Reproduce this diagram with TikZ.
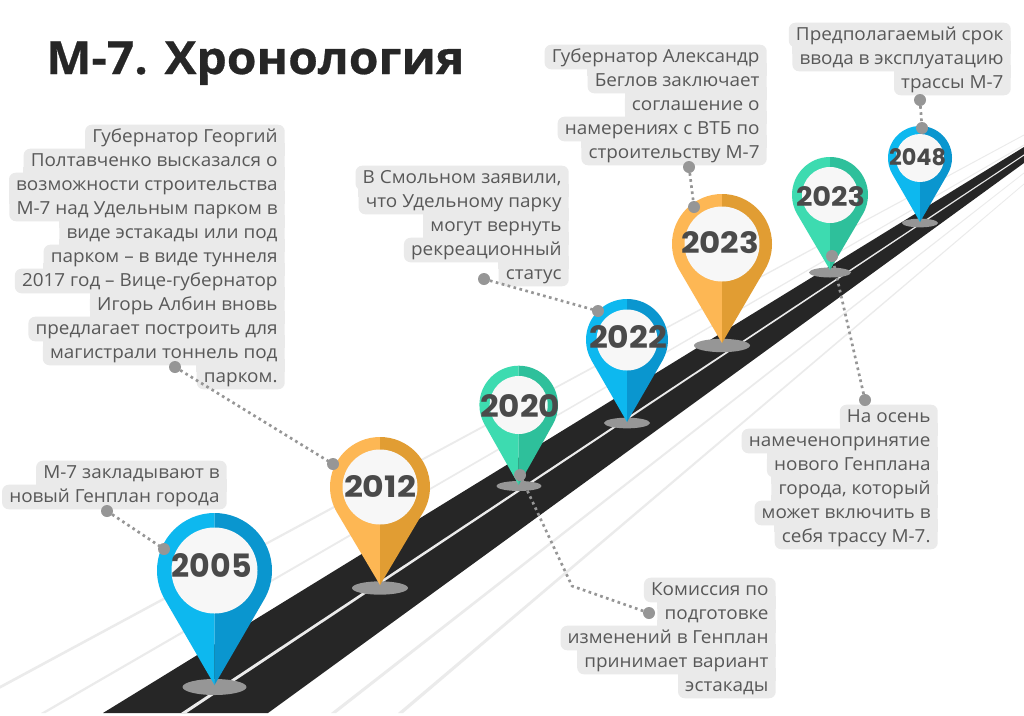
\documentclass[tikz,border=0pt]{standalone}
\usepackage{fontspec}
\usepackage{graphicx}
\setmainfont{Open Sans}
\newfontfamily\bodyf[FakeStretch=1.05]{Open Sans}
\newfontfamily\titlef[FakeStretch=1.05,BoldFeatures={FakeBold=0.6,FakeStretch=1.05}]{Open Sans}
\newfontfamily\yearf{Poppins}
\definecolor{roadc}{HTML}{262626}
\definecolor{linec}{HTML}{EBEBEB}
\definecolor{boxc}{HTML}{EAEAEA}
\definecolor{textc}{HTML}{585858}
\definecolor{yearc}{HTML}{4A4A4A}
\definecolor{dotc}{HTML}{969696}
\definecolor{innerc}{HTML}{F7F7F7}
\definecolor{blueL}{HTML}{0DB8EF}
\definecolor{blueD}{HTML}{0A96CF}
\definecolor{orangeL}{HTML}{FDB754}
\definecolor{orangeD}{HTML}{E19D33}
\definecolor{greenL}{HTML}{3DDBB0}
\definecolor{greenD}{HTML}{2EC09B}
\usetikzlibrary{shapes.geometric,calc}
\pgfdeclarelayer{backl}
\pgfdeclarelayer{joinl}
\pgfsetlayers{backl,joinl,main}
\tikzset{
  ln/.style={fill=boxc,rounded corners=5pt,anchor=east,inner xsep=5.4pt,inner ysep=2.65pt,
    text height=10.6pt,text depth=2.5pt,text=textc,font=\bodyf\fontsize{13.5pt}{16pt}\selectfont},
  dotn/.style={circle,fill=dotc,inner sep=0pt,minimum size=9pt},
  conn/.style={dotc,line width=2pt,dash pattern=on 2pt off 2.6pt},
  shadown/.style={ellipse,fill=dotc,inner sep=0pt},
  innern/.style={circle,fill=innerc,inner sep=0pt},
  yearn/.style={inner sep=0pt,text=yearc,font=\yearf\bfseries}
}
% name, cx, cy, R, r, tipy, light, dark
\newcommand{\mypin}[8]{%
  \pgfmathsetmacro\myphi{acos(#4/(#6-#3))}%
  \fill[#7] (#2,#3) ++(0,-#4) arc[start angle=90,end angle=270-\myphi,radius=#4*0.75pt] -- (#2,#6) -- cycle;
  \fill[#8] (#2,#3) ++(0,-#4) arc[start angle=90,end angle=-90+\myphi,radius=#4*0.75pt] -- (#2,#6) -- cycle;
  \node[innern,minimum size=#5*1.5pt] (#1) at (#2,#3) {};
}
\newcommand{\myyear}[6]{\node[yearn] (#1) at (#2,#3) {\resizebox{\dimexpr #4pt*3/4\relax}{\dimexpr #5pt*3/4\relax}{#6}};}
% fills the notch between two consecutive rows of a label
\newcommand{\myjoin}[2]{%
  \begin{pgfonlayer}{joinl}
  \fill[boxc] let \p1=(#1.west),\p2=(#2.west),\p3=(#1.south east) in
    ({max(\x1,\x2)*1pt},{\y3+5pt}) rectangle (\x3,{\y3-5pt});
  \end{pgfonlayer}}
\begin{document}
\begin{tikzpicture}[x=0.75pt,y=-0.75pt]
\useasboundingbox (0,0) rectangle (1024,715);
\begin{pgfonlayer}{backl}
\fill[white] (0,0) rectangle (1024,715);
% thin lines
\fill[linec] (0,685.7) -- (0,688.7) -- (1024,135.5) -- (1024,134.5) -- cycle;
\fill[linec] (41,713) -- (45.5,713) -- (1024,145.5) -- (1024,144.5) -- cycle;
\fill[linec] (331,713) -- (336,713) -- (1024,173.5) -- (1024,172.5) -- cycle;
\fill[linec] (398,713) -- (403,713) -- (1024,184.5) -- (1024,183.5) -- cycle;
% road
\fill[roadc] (103,713) -- (268,713) -- (1024,163) -- (1024,147) -- cycle;
\fill[linec] (181,713) -- (186.5,713) -- (1024,155.6) -- (1024,154.4) -- cycle;
\end{pgfonlayer}

% text boxes
\node[ln] (a1) at (227,473) {М-7 закладывают в};
\node[ln] (a2) at (227,497) {новый Генплан города};
\myjoin{a1}{a2}

\node[ln] (b1) at (285,137) {Губернатор Георгий};
\node[ln] (b2) at (285,161) {Полтавченко высказался о};
\node[ln] (b3) at (285,185) {возможности строительства};
\node[ln] (b4) at (285,209) {М-7 над Удельным парком в};
\node[ln] (b5) at (285,233) {виде эстакады или под};
\node[ln] (b6) at (285,257) {парком – в виде туннеля\hspace{3pt}};
\node[ln] (b7) at (285,281) {2017 год – Вице-губернатор};
\node[ln] (b8) at (285,305) {Игорь Албин вновь};
\node[ln] (b9) at (285,329) {предлагает построить для};
\node[ln] (b10) at (285,353) {магистрали тоннель под};
\node[ln] (b11) at (285,377) {парком.};
\myjoin{b1}{b2}\myjoin{b2}{b3}\myjoin{b3}{b4}\myjoin{b4}{b5}\myjoin{b5}{b6}
\myjoin{b6}{b7}\myjoin{b7}{b8}\myjoin{b8}{b9}\myjoin{b9}{b10}\myjoin{b10}{b11}

\node[ln] (c1) at (767,57) {Губернатор Александр};
\node[ln] (c2) at (767,81) {Беглов заключает};
\node[ln] (c3) at (767,105) {соглашение о};
\node[ln] (c4) at (767,129) {намерениях с ВТБ по};
\node[ln] (c5) at (767,153) {строительству М-7};
\myjoin{c1}{c2}\myjoin{c2}{c3}\myjoin{c3}{c4}\myjoin{c4}{c5}

\node[ln] (d1) at (569,178) {В Смольном заявили,};
\node[ln] (d2) at (569,202) {что Удельному парку};
\node[ln] (d3) at (569,226) {могут вернуть};
\node[ln] (d4) at (569,250) {рекреационный};
\node[ln] (d5) at (569,274) {статус};
\myjoin{d1}{d2}\myjoin{d2}{d3}\myjoin{d3}{d4}\myjoin{d4}{d5}

\node[ln] (e1) at (1011,35) {Предполагаемый срок};
\node[ln] (e2) at (1011,59) {ввода в эксплуатацию};
\node[ln] (e3) at (1011,83) {трассы М-7};
\myjoin{e1}{e2}\myjoin{e2}{e3}

\node[ln] (f1) at (938,417) {На осень};
\node[ln] (f2) at (938,441) {намеченопринятие};
\node[ln] (f3) at (938,465) {нового Генплана};
\node[ln] (f4) at (938,489) {города, который};
\node[ln] (f5) at (938,513) {может включить в};
\node[ln] (f6) at (938,537) {себя трассу М-7.};
\myjoin{f1}{f2}\myjoin{f2}{f3}\myjoin{f3}{f4}\myjoin{f4}{f5}\myjoin{f5}{f6}

\node[ln] (g1) at (776,590) {Комиссия по};
\node[ln] (g2) at (776,614) {подготовке};
\node[ln] (g3) at (776,638) {изменений в Генплан};
\node[ln] (g4) at (776,662) {принимает вариант};
\node[ln] (g5) at (776,686) {эстакады};
\myjoin{g1}{g2}\myjoin{g2}{g3}\myjoin{g3}{g4}\myjoin{g4}{g5}

% title
\node[anchor=base west,inner sep=0pt,text=roadc] (title) at (46,74)
  {\resizebox{\dimexpr 418pt*3/4\relax}{!}{\titlef\bfseries М-7. Хронология}};

% connector ends
\coordinate (ka) at (107,511);
\coordinate (kb) at (175,367);
\coordinate (kc) at (689,167);
\coordinate (kd) at (484,279);
\coordinate (ke) at (920,100);
\coordinate (kf) at (865,400);
\coordinate (kg) at (649,613);
\coordinate (pa) at (164,549);
\coordinate (pb) at (333,464);
\coordinate (pc) at (694,207);
\coordinate (pd) at (598,311);
\coordinate (pe) at (922,128);
\coordinate (pf) at (832,256);
\coordinate (pg) at (520,475);
\coordinate (bend) at (572,586);
\draw[conn] (ka) -- (pa);
\draw[conn] (kb) -- (pb);
\draw[conn] (kc) -- (pc);
\draw[conn] (kd) -- (pd);
\draw[conn] (ke) -- (pe);
\draw[conn] (kf) -- (pf);
\draw[conn] (kg) -- (bend) -- (pg);

% shadows
\node[shadown,minimum width=48pt,minimum height=12pt] (s1) at (214.5,687) {};
\node[shadown,minimum width=42pt,minimum height=10pt] (s2) at (380,588) {};
\node[shadown,minimum width=34pt,minimum height=7.5pt] (s3) at (519,486) {};
\node[shadown,minimum width=34.5pt,minimum height=8pt] (s4) at (627,423) {};
\node[shadown,minimum width=42pt,minimum height=10pt] (s5) at (722,345.5) {};
\node[shadown,minimum width=31.5pt,minimum height=7.5pt] (s6) at (830,272.5) {};
\node[shadown,minimum width=27pt,minimum height=6.5pt] (s7) at (920,223) {};

% pins
\mypin{p1}{214.5}{570.5}{57.5}{43}{685}{blueL}{blueD}
\mypin{p2}{380}{487}{50}{37.5}{585}{orangeL}{orangeD}
\mypin{p3}{518.7}{405}{39.3}{29}{485}{greenL}{greenD}
\mypin{p4}{627}{340}{41}{30.5}{422}{blueL}{blueD}
\mypin{p5}{722}{244}{50}{37.5}{343}{orangeL}{orangeD}
\mypin{p6}{830}{195}{38}{28}{270}{greenL}{greenD}
\mypin{p7}{920}{158}{32}{24}{222}{blueL}{blueD}

\myyear{y1}{211.7}{565}{80}{24}{2005}
\myyear{y2}{380}{486}{72}{22}{2012}
\myyear{y3}{520}{406}{80}{23}{2020}
\myyear{y4}{628}{336.5}{78}{23}{2022}
\myyear{y5}{720}{243}{78}{22}{2023}
\myyear{y6}{830.5}{197}{69}{20}{2023}
\myyear{y7}{917.5}{157.5}{57}{17}{2048}

% dots
\node[dotn] (da) at (ka) {};
\node[dotn] (db) at (kb) {};
\node[dotn] (dc) at (kc) {};
\node[dotn] (dd) at (kd) {};
\node[dotn] (de) at (ke) {};
\node[dotn] (df) at (kf) {};
\node[dotn] (dg) at (kg) {};
\node[dotn] (ea) at (pa) {};
\node[dotn] (eb) at (pb) {};
\node[dotn] (ec) at (pc) {};
\node[dotn] (ed) at (pd) {};
\node[dotn] (ee) at (pe) {};
\node[dotn] (ef) at (pf) {};
\node[dotn] (eg) at (pg) {};
\end{tikzpicture}
\end{document}
